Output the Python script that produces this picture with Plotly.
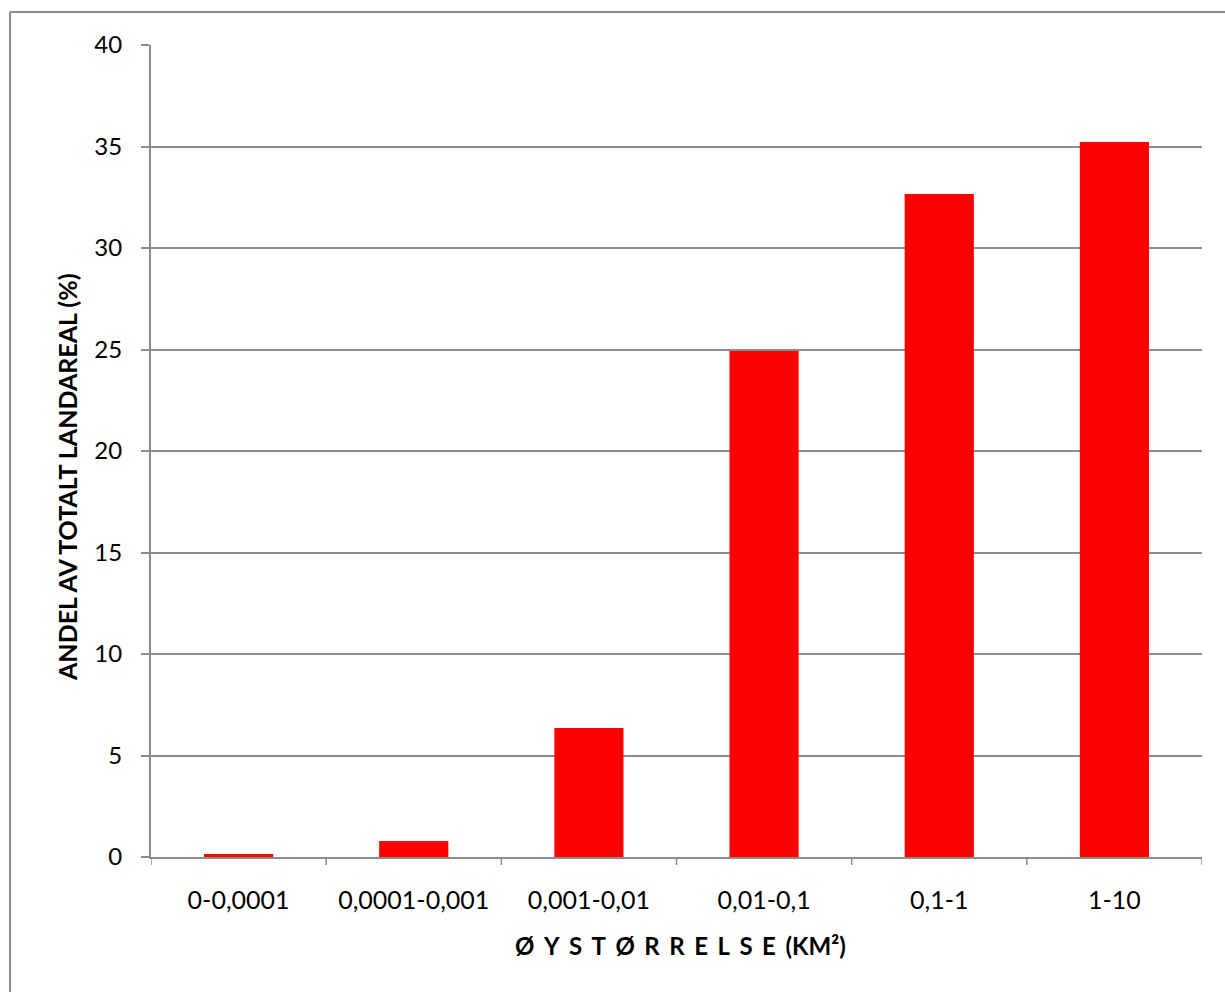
import plotly.graph_objects as go

# Island size classes (km²) and share of total land area (%)
size_classes = ["0-0,0001", "0,0001-0,001", "0,001-0,01", "0,01-0,1", "0,1-1", "1-10"]
land_share = [0.15, 0.79, 6.35, 24.93, 32.66, 35.22]

y_ticks = [0, 5, 10, 15, 20, 25, 30, 35, 40]

FONT = "Lato, 'Open Sans', sans-serif"
GRID = "#8c8c8c"
SP = "\u2004\u200a"  # wide gap between spaced-out title letters

x_title = SP.join(list("ØYSTØRRELSE")) + SP + "(KM²)"
y_title = "ANDEL AV TOTALT LANDAREAL (%)"

fig = go.Figure(
    go.Bar(
        x=list(range(len(size_classes))),
        y=land_share,
        marker=dict(color="#ff0000", line=dict(width=0)),
        width=0.395,
        hoverinfo="x+y",
    )
)

W, H = 1225, 992
L, R, T, B = 151, 23, 45, 135
pw, ph = W - L - R, H - T - B


def px_x(px):
    return (px - L) / pw


def px_y(py):
    return (H - B - py) / ph


fig.update_layout(
    width=W,
    height=H,
    margin=dict(l=L, r=R, t=T, b=B),
    paper_bgcolor="white",
    plot_bgcolor="white",
    showlegend=False,
    font=dict(family=FONT, size=24, color="#000000"),
    xaxis=dict(
        range=[-0.5, len(size_classes) - 0.5],
        tickmode="array",
        tickvals=list(range(len(size_classes))),
        ticktext=size_classes,
        showgrid=False,
        showline=True,
        linecolor=GRID,
        linewidth=2,
        ticks="",
        ticklabelstandoff=20,
        tickfont=dict(family=FONT, size=25),
        fixedrange=True,
    ),
    yaxis=dict(
        range=[0, 40],
        tickmode="array",
        tickvals=y_ticks,
        ticktext=[str(v) for v in y_ticks],
        showgrid=True,
        gridcolor=GRID,
        gridwidth=1.5,
        showline=True,
        linecolor=GRID,
        linewidth=2,
        ticks="outside",
        ticklen=8,
        tickcolor=GRID,
        tickwidth=1.5,
        ticklabelstandoff=14,
        tickfont=dict(family=FONT, size=24),
        zeroline=False,
        fixedrange=True,
    ),
    annotations=[
        dict(
            text="<b>" + x_title + "</b>",
            xref="paper", yref="paper",
            x=px_x(680), y=px_y(945),
            xanchor="center", yanchor="middle",
            showarrow=False,
            font=dict(family=FONT, size=24),
        ),
        dict(
            text="<b>" + y_title + "</b>",
            xref="paper", yref="paper",
            x=px_x(67), y=px_y(477),
            xanchor="center", yanchor="middle",
            textangle=-90,
            showarrow=False,
            font=dict(family=FONT, size=25),
        ),
    ],
)

shapes = []
# category boundary tick marks below the x axis
for k in range(len(size_classes) + 1):
    shapes.append(dict(
        type="line", xref="x", yref="paper",
        x0=k - 0.5, x1=k - 0.5, y0=0, y1=px_y(865),
        line=dict(color=GRID, width=1.5),
    ))
# outer chart frame (left and top edges)
shapes.append(dict(
    type="line", xref="paper", yref="paper",
    x0=px_x(10), x1=px_x(10), y0=px_y(12), y1=px_y(1010),
    line=dict(color=GRID, width=2),
))
shapes.append(dict(
    type="line", xref="paper", yref="paper",
    x0=px_x(10), x1=px_x(1240), y0=px_y(12), y1=px_y(12),
    line=dict(color=GRID, width=2),
))
fig.update_layout(shapes=shapes)

fig.write_html("out.html")
